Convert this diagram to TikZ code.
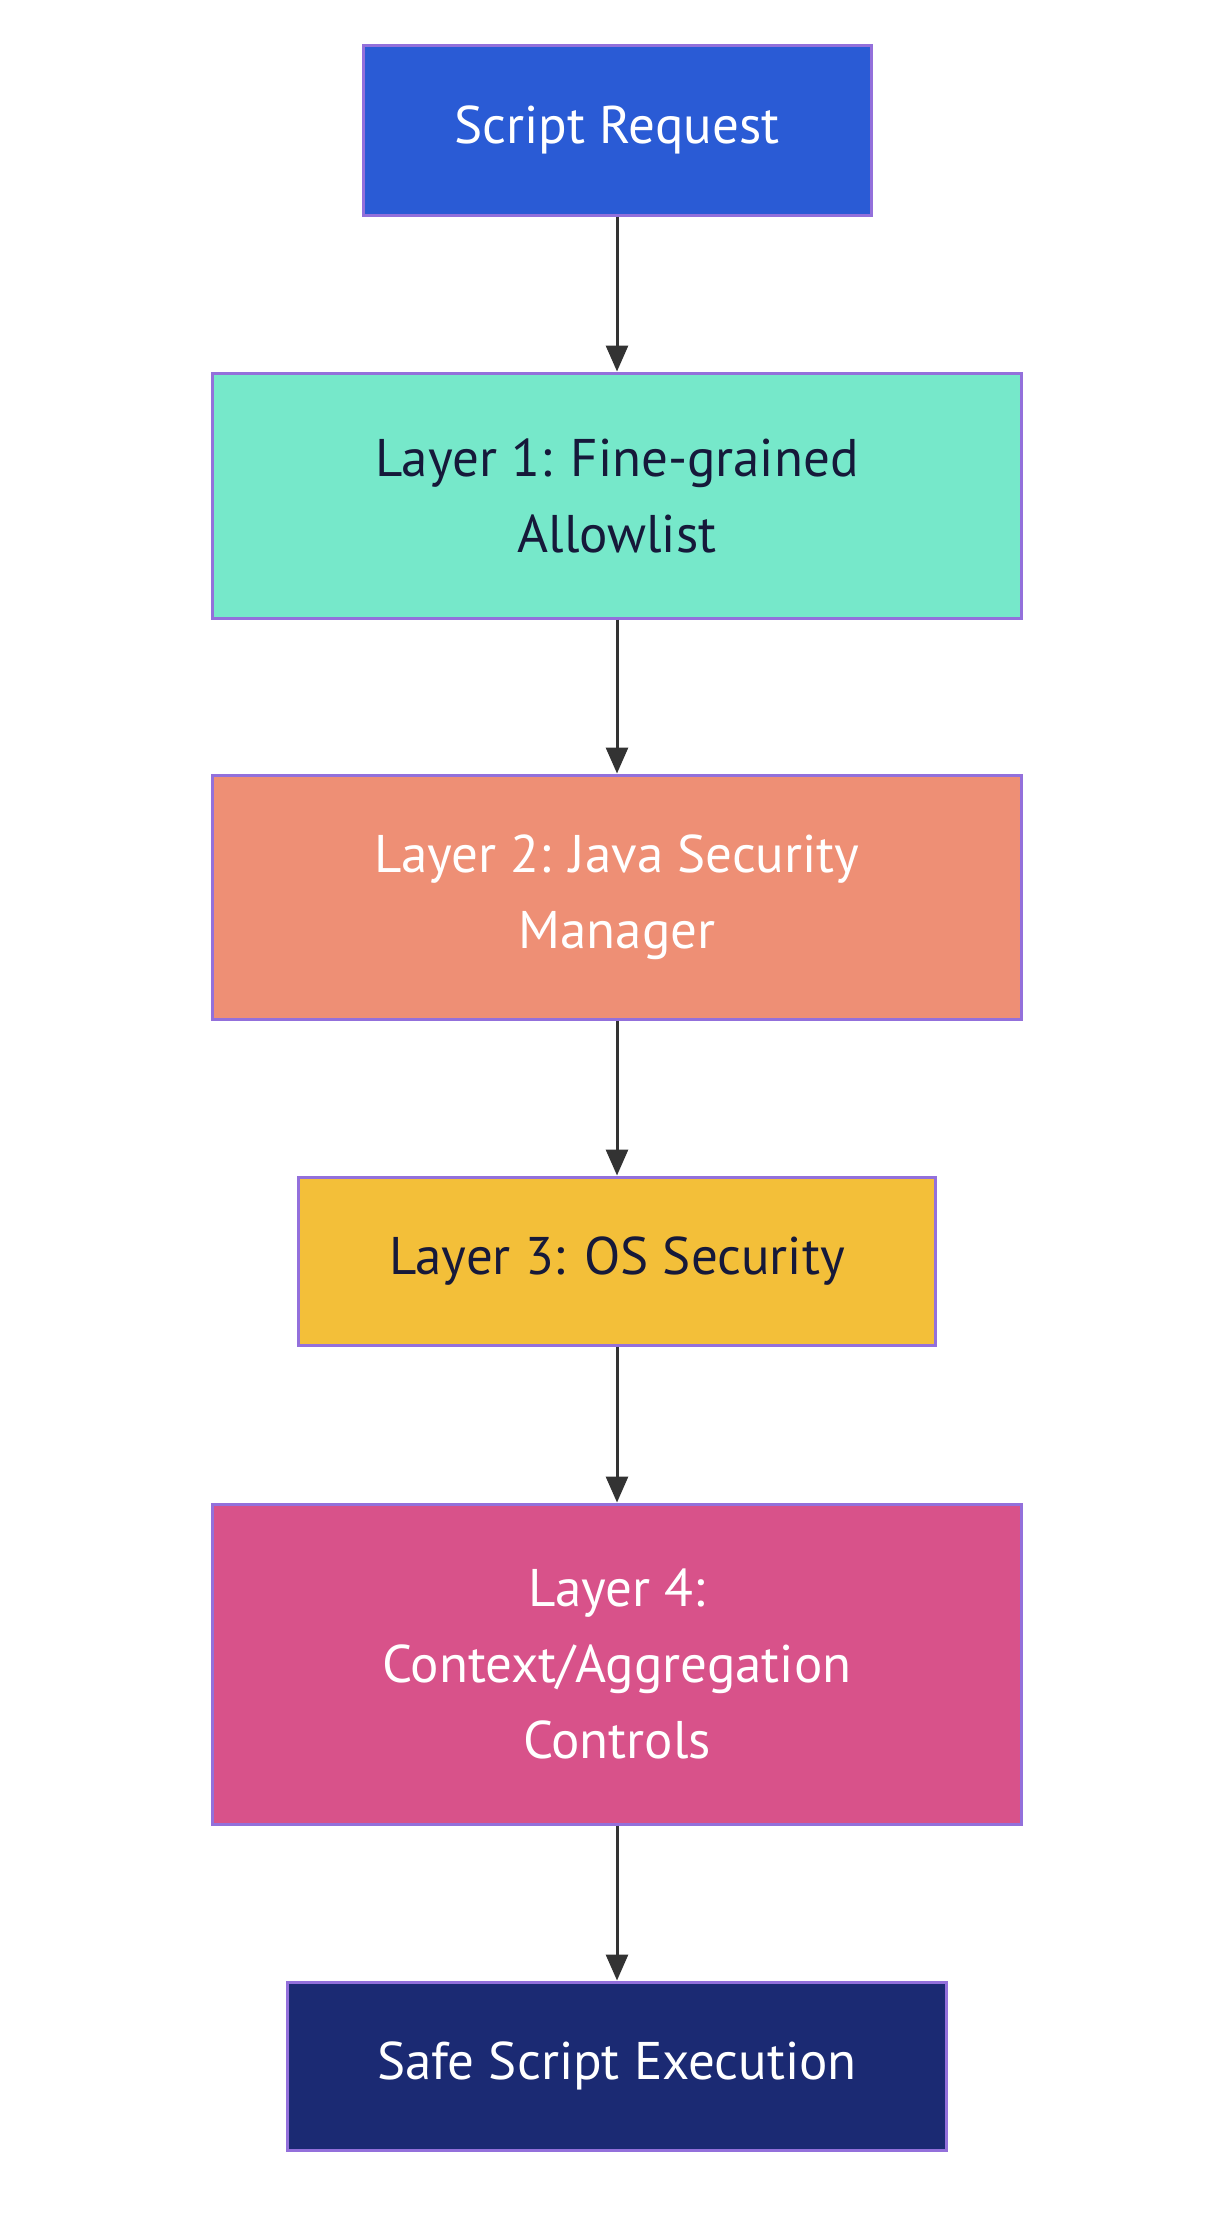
\documentclass[tikz,border=0pt]{standalone}
\usepackage{fontspec}
\setmainfont{PT Sans}
\usetikzlibrary{arrows.meta}
\definecolor{edgepurple}{HTML}{9370DB}
\definecolor{inkdark}{HTML}{16193A}
\definecolor{reqblue}{HTML}{2A5BD5}
\definecolor{layermint}{HTML}{76E8CA}
\definecolor{layersalmon}{HTML}{EE8F75}
\definecolor{layergold}{HTML}{F3BF39}
\definecolor{layerpink}{HTML}{D8528A}
\definecolor{safenavy}{HTML}{1B2A73}
\begin{document}
\begin{tikzpicture}[x=1pt,y=1pt,
    layerbox/.style={draw=edgepurple,line width=1.5pt,rectangle,align=center,
      font=\fontsize{26.5}{38}\selectfont,inner sep=0pt},
    flow/.style={draw=black!80,line width=1.5pt,-{Triangle[length=13pt,width=11pt]}}]
      \useasboundingbox (0,0) rectangle (614,-1109);
      \draw
        (308.5,-65) node[layerbox,fill=reqblue,text=white,minimum width=254pt,minimum height=85pt] (req){Script Request}
        (308.5,-247.75) node[layerbox,fill=layermint,text=inkdark,minimum width=404.5pt,minimum height=122.5pt] (l1){Layer 1: Fine-grained\\Allowlist}
        (308.5,-448.5) node[layerbox,fill=layersalmon,text=white,minimum width=404.5pt,minimum height=122pt] (l2){Layer 2: Java Security\\Manager}
        (308.5,-630.5) node[layerbox,fill=layergold,text=inkdark,minimum width=318.5pt,minimum height=84pt] (l3){Layer 3: OS Security}
        (308.5,-832) node[layerbox,fill=layerpink,text=white,minimum width=404.5pt,minimum height=160pt] (l4){Layer 4:\\Context/Aggregation\\Controls}
        (308.5,-1033) node[layerbox,fill=safenavy,text=white,minimum width=329.5pt,minimum height=84pt] (safe){Safe Script Execution};
      \begin{scope}[flow]
        \draw (req) to (l1);
        \draw (l1) to (l2);
        \draw (l2) to (l3);
        \draw (l3) to (l4);
        \draw (l4) to (safe);
      \end{scope}
    \end{tikzpicture}
\end{document}
